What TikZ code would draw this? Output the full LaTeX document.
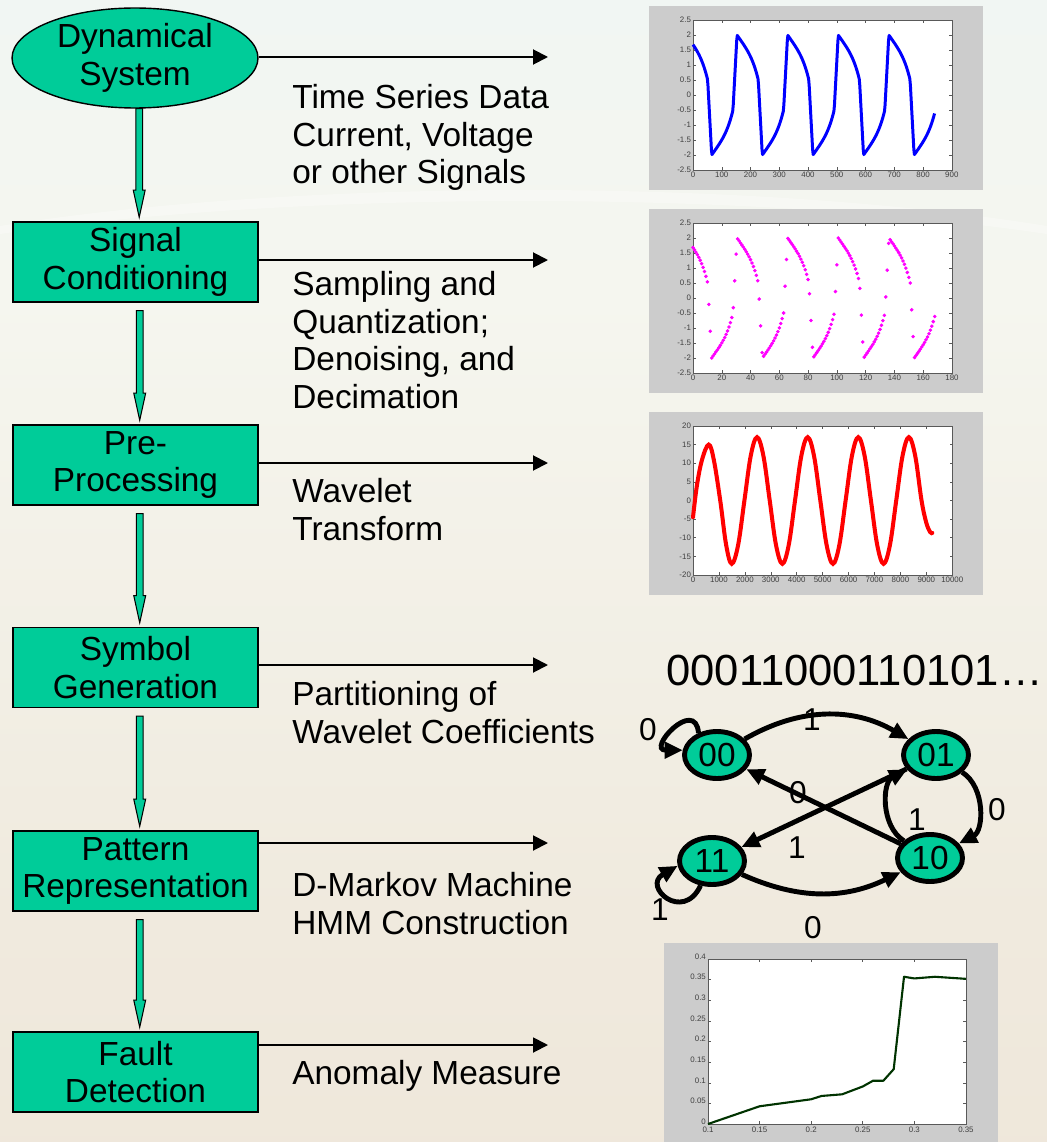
\documentclass[tikz,border=0pt]{standalone}
\usepackage{fontspec}
\setmainfont{Liberation Sans}
\usetikzlibrary{arrows.meta,shapes.geometric,calc}

\definecolor{boxgreen}{RGB}{0,204,153}
\definecolor{plotgray}{RGB}{204,204,204}
\definecolor{bgtop}{RGB}{222,240,245}
\definecolor{bghigh}{RGB}{238,246,246}
\definecolor{bgmid}{RGB}{245,246,239}
\definecolor{bglow}{RGB}{240,234,222}
\definecolor{bgbot}{RGB}{236,225,211}
\definecolor{curvegreen}{RGB}{0,51,0}
\definecolor{dotmagenta}{RGB}{255,0,255}

\pgfdeclareverticalshading{slidebg}{100bp}{color(0bp)=(bgbot); color(35bp)=(bglow);
  color(62bp)=(bgmid); color(85bp)=(bghigh); color(100bp)=(bgtop)}

\tikzset{
  stage/.style={draw, fill=boxgreen, line width=0.8pt, minimum width=4.9cm,
    minimum height=1.6cm, align=center, inner sep=0pt,
    font=\fontsize{19}{21.4}\selectfont},
  system/.style={stage, ellipse, minimum width=4.92cm, minimum height=2cm},
  info/.style={-{Triangle[length=0.3cm,width=0.3cm]}, line width=1.1pt},
  note/.style={anchor=north west, align=left, inner sep=0pt,
    font=\fontsize{19}{21.4}\selectfont},
  flowarr/.style={draw, fill=boxgreen, line width=0.6pt},
  state/.style={ellipse, draw, fill=boxgreen, line width=2.8pt, minimum width=1.3cm,
    minimum height=0.94cm, inner sep=0pt, font=\fontsize{19}{19}\selectfont},
  trans/.style={-{Triangle[length=0.36cm,width=0.32cm]}, line width=2.8pt},
  elabel/.style={inner sep=0pt, font=\fontsize{18}{18}\selectfont},
  panel/.style={fill=plotgray},
  axesbox/.style={fill=white, draw=black!65, line width=0.4pt},
  tickmark/.style={draw=black!65, line width=0.3pt},
  ticklabel/.style={inner sep=1pt, text=black!75, font=\fontsize{4.5}{5}\selectfont},
}

% block arrow between two stages
\newcommand{\flowarrow}[2]{%
  \path[flowarr] let \p1=(#1), \p2=(#2) in
    (\x1+0.5pt,\y1) -- (\x1+0.5pt,\y2+15.5pt) -- (\x1-1pt,\y2+15.5pt) -- (\x1+2.4pt,\y2)
    -- (\x1+5.8pt,\y2+15.5pt) -- (\x1+4.3pt,\y2+15.5pt) -- (\x1+4.3pt,\y1) -- cycle;}

\begin{document}
\begin{tikzpicture}[x=0.02cm, y=-0.02cm,
  declare function={
    vdphalf(\h)=(\h<74)*(2-1.014*\h/74-0.486*(\h/74)^4)+(\h>=74)*(0.5-2.5*(\h-74)/14);
    vdp(\t)=(1-2*(mod(\t+199,176)>=88))*vdphalf(mod(mod(\t+199,176),88));
  }]
  \useasboundingbox (0,0) rectangle (1047,1142);
  \shade[shading=slidebg] (0,0) rectangle (1047,1142);
  \fill[white, opacity=0.3] (0,226) .. controls (300,178) and (750,178) .. (1047,226)
    -- (1047,234) .. controls (750,190) and (300,190) .. (0,234) -- cycle;

  % stages
  \node[system] (dyn) at (135,58) {Dynamical\\System};
  \node[stage] (cond) at (135.5,262) {Signal\\Conditioning};
  \node[stage] (pre) at (135.5,465) {Pre-\\Processing};
  \node[stage] (sym) at (135.5,667.5) {Symbol\\Generation};
  \node[stage] (pat) at (135.5,871) {Pattern\\Representation};
  \node[stage] (fault) at (135.5,1072) {Fault\\Detection};

  \flowarrow{dyn.south}{[yshift=2.3pt]cond.north}
  \flowarrow{[yshift=-4.5pt]cond.south}{[yshift=2.3pt]pre.north}
  \flowarrow{[yshift=-4.5pt]pre.south}{[yshift=2.3pt]sym.north}
  \flowarrow{[yshift=-4.5pt]sym.south}{[yshift=2.3pt]pat.north}
  \flowarrow{[yshift=-4.5pt]pat.south}{[yshift=2.3pt]fault.north}

  % outputs of each stage
  \coordinate (dynout) at (548,57);
  \coordinate (condout) at (548,260);
  \coordinate (preout) at (548,463);
  \coordinate (symout) at (548,665);
  \coordinate (patout) at (548,843);
  \coordinate (faultout) at (548,1045);
  \draw[info] (dyn.east |- dynout) -- (dynout);
  \draw[info] (cond.east |- condout) -- (condout);
  \draw[info] (pre.east |- preout) -- (preout);
  \draw[info] (sym.east |- symout) -- (symout);
  \draw[info] (pat.east |- patout) -- (patout);
  \draw[info] (fault.east |- faultout) -- (faultout);

  \node[note] (dyntext) at (292,84) {Time Series Data\\Current, Voltage\\or other Signals};
  \node[note] (condtext) at (292,271) {Sampling and\\Quantization;\\Denoising, and\\Decimation};
  \node[note] (pretext) at (292,478) {Wavelet\\Transform};
  \node[note] (symtext) at (292,681) {Partitioning of\\Wavelet Coefficients};
  \node[note] (pattext) at (292,872) {D-Markov Machine\\HMM Construction};
  \node[note] (faulttext) at (292,1060) {Anomaly Measure};

  % time series plot
  \fill[panel] (649,6) rectangle (983,190);
  \draw[axesbox] (693,20) rectangle (952,170);
  \begin{scope}[shift={(693,95)}, x=0.0057556cm, y=0.6cm]
    \foreach \v in {2.5,2,1.5,1,0.5,0,-0.5,-1,-1.5,-2,-2.5} {
      \draw[tickmark] (0,\v) -- ++(1.5pt,0) (900,\v) -- ++(-1.5pt,0);
      \node[ticklabel, anchor=east] at (0,\v) {\v};
    }
    \foreach \u in {0,100,...,900} {
      \draw[tickmark] (\u,-2.5) -- ++(0,1.5pt) (\u,2.5) -- ++(0,-1.5pt);
      \node[ticklabel, anchor=north] at (\u,-2.5) {\u};
    }
    \draw[blue, line width=1.7pt, line join=round] plot[domain=0:840, samples=421] (\x,{vdp(\x)});
  \end{scope}

  % sampled plot
  \fill[panel] (649,209) rectangle (983,393);
  \draw[axesbox] (693,223) rectangle (952,373);
  \begin{scope}[shift={(693,298)}, x=0.028778cm, y=0.6cm]
    \foreach \v in {2.5,2,1.5,1,0.5,0,-0.5,-1,-1.5,-2,-2.5} {
      \draw[tickmark] (0,\v) -- ++(1.5pt,0) (180,\v) -- ++(-1.5pt,0);
      \node[ticklabel, anchor=east] at (0,\v) {\v};
    }
    \foreach \u in {0,20,...,180} {
      \draw[tickmark] (\u,-2.5) -- ++(0,1.5pt) (\u,2.5) -- ++(0,-1.5pt);
      \node[ticklabel, anchor=north] at (\u,-2.5) {\u};
    }
    \fill[dotmagenta] plot[only marks, mark=*, mark size=0.8pt, domain=0:168, samples=169] (\x,{vdp(5*\x)});
  \end{scope}

  % wavelet plot
  \fill[panel] (649,412) rectangle (983,595);
  \draw[axesbox] (693,426) rectangle (952,575);
  \begin{scope}[shift={(693,500.5)}, x=0.000518cm, y=0.0745cm]
    \foreach \v in {20,15,10,5,0,-5,-10,-15,-20} {
      \draw[tickmark] (0,\v) -- ++(1.5pt,0) (10000,\v) -- ++(-1.5pt,0);
      \node[ticklabel, anchor=east] at (0,\v) {\v};
    }
    \foreach \u in {0,1000,...,10000} {
      \draw[tickmark] (\u,-20) -- ++(0,1.5pt) (\u,20) -- ++(0,-1.5pt);
      \node[ticklabel, anchor=north] at (\u,-20) {\u};
    }
    \draw[red, line width=2.3pt, line cap=round] plot[smooth, tension=0.6] coordinates {
      (0,-4.5) (150,4) (350,11) (605,15) (800,11) (1050,0) (1280,-12) (1495,-17)
      (1739,-12) (1983,0) (2227,12) (2471,17) (2715,12) (2959,0) (3203,-12) (3447,-17)
      (3691,-12) (3935,0) (4179,12) (4423,17) (4667,12) (4911,0) (5155,-12) (5399,-17)
      (5643,-12) (5887,0) (6131,12) (6375,17) (6619,12) (6863,0) (7107,-12) (7351,-17)
      (7595,-12) (7839,0) (8083,12) (8327,17) (8571,12) (8815,0) (9000,-6) (9150,-8.5) (9230,-8.7)};
  \end{scope}

  % symbol string and D-Markov machine
  \node[anchor=base west, inner sep=0pt, font=\fontsize{24.8}{25}\selectfont] (bits) at (666,685) {00011000110101…};
  \node[state] (s00) at (717,755) {00};
  \node[state] (s01) at (936,755) {01};
  \node[state] (s11) at (712,861) {11};
  \node[state] (s10) at (930,858) {10};
  \draw[trans] (s00.130) to[out=95, in=180, looseness=4] (s00.172);
  \draw[trans] (s00) to[bend left=30] (s01);
  \draw[trans] (s01) to[bend left=60] (s10);
  \draw[trans] (s10) to[bend left=60] (s01);
  \draw[trans] (s10) -- (s00);
  \draw[trans] (s01) -- (s11);
  \draw[trans] (s11) to[bend right=25] (s10);
  \draw[trans] (s11.245) to[out=245, in=210, looseness=3.5] (s11.188);
  \node[elabel] (l00a) at (648,730) {0};
  \node[elabel] (l00b) at (812,720) {1};
  \node[elabel] (l01a) at (997,810) {0};
  \node[elabel] (l10a) at (917,820) {1};
  \node[elabel] (l10b) at (798,793) {0};
  \node[elabel] (l01b) at (797,848) {1};
  \node[elabel] (l11a) at (813,928) {0};
  \node[elabel] (l11b) at (660,910) {1};

  % anomaly measure plot
  \fill[panel] (664,943) rectangle (998,1142);
  \draw[axesbox] (708,959) rectangle (966,1124);
  \begin{scope}[shift={(604.8,1124)}, x=20.64cm, y=8.25cm]
    \foreach \v in {0,0.05,0.1,0.15,0.2,0.25,0.3,0.35,0.4} {
      \draw[tickmark] (0.1,\v) -- ++(1.5pt,0) (0.35,\v) -- ++(-1.5pt,0);
      \node[ticklabel, anchor=south east] at (0.1,\v-0.006) {\v};
    }
    \foreach \u in {0.1,0.15,0.2,0.25,0.3,0.35} {
      \draw[tickmark] (\u,0) -- ++(0,1.5pt) (\u,0.4) -- ++(0,-1.5pt);
      \node[ticklabel, anchor=north, yshift=-0.6pt] at (\u,0) {\u};
    }
    \draw[curvegreen, line width=1.2pt, line join=round] plot coordinates {
      (0.1,0) (0.15,0.043) (0.2,0.06) (0.21,0.068) (0.23,0.072) (0.25,0.091) (0.26,0.105)
      (0.27,0.105) (0.28,0.133) (0.29,0.357) (0.3,0.353) (0.32,0.357) (0.35,0.352)};
  \end{scope}
\end{tikzpicture}
\end{document}
